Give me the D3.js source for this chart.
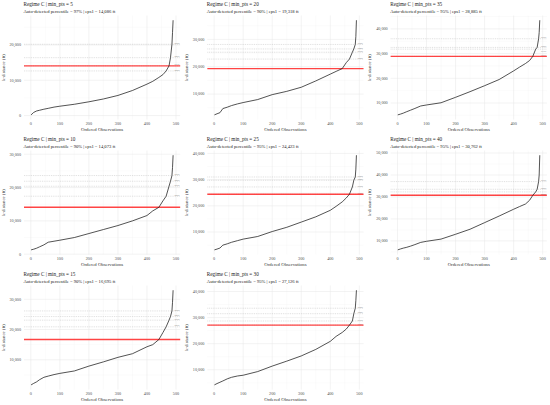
<!DOCTYPE html>
<html>
<head>
<meta charset="utf-8">
<script src="https://cdn.jsdelivr.net/npm/d3@7"></script>
<style>
  body { margin: 0; background: #fff; }
  text { font-family: "Liberation Serif", "DejaVu Serif", serif; }
</style>
</head>
<body>
<div id="chart"></div>
<script>
// Panel order as laid out in the grid (row by row)
const minPts  = [5, 20, 35, 10, 25, 40, 15, 30];
const autoPct = [97, 90, 95, 90, 95, 95, 90, 95];
const eps1    = [14086, 19318, 28885, 14073, 24423, 30762, 16695, 27126];

// Reference percentile lines (dotted) and their k-distance per panel
const pctLevels = [95, 97, 98, 99];
const pctValues = [
  [12640, 14086, 16400, 20190],
  [22800, 25300, 26500, 28150],
  [28885, 31800, 32500, 36000],
  [17400, 20400, 21900, 23600],
  [24423, 27200, 29750, 31000],
  [30762, 32300, 33500, 37000],
  [20900, 23100, 24300, 26150],
  [27126, 28700, 31500, 33600]
];

// Sorted k-distance curve, sampled at these observation indices
const obsIdx = [1, 10, 20, 30, 45, 60, 80, 100, 150, 200, 250, 300, 350, 400, 420, 441, 455, 466, 476, 481, 486, 488, 490];
const kdist5  = [200, 900, 1300, 1500, 1800, 2050, 2400, 2650, 3200, 3900, 4700, 5700, 7100, 8900, 9700, 10800, 11600, 12640, 14086, 16400, 20190, 23500, 27000];
const kdist20 = [2400, 2800, 3200, 4700, 5200, 5800, 6400, 6900, 8000, 9800, 11000, 12500, 14800, 17300, 18300, 19318, 21500, 22800, 25300, 26500, 28150, 31000, 37000];
const kdist35 = [5200, 5500, 5900, 6400, 7100, 7800, 8800, 9200, 10100, 12300, 14600, 17000, 19500, 23000, 24500, 26000, 27200, 28885, 31800, 32500, 36000, 38500, 43500];
const kdist10 = [1300, 1500, 1800, 2200, 2800, 3600, 3900, 4200, 5000, 6200, 7400, 8600, 10000, 11600, 13000, 14073, 16000, 17400, 20400, 21900, 23600, 26000, 29700];
const kdist25 = [3200, 3500, 3900, 5000, 5500, 6100, 6700, 7300, 8300, 10200, 11800, 13800, 15800, 18300, 19800, 21500, 23000, 24423, 27200, 29750, 31000, 34000, 39300];
const kdist40 = [5900, 6300, 6700, 7000, 7600, 8300, 9300, 9800, 10800, 13000, 15300, 18300, 21300, 24400, 25600, 26800, 28500, 30762, 32300, 33500, 37000, 40000, 49000];
const kdist15 = [1700, 2200, 2700, 3400, 4200, 4600, 5100, 5500, 6300, 7900, 9300, 10800, 12000, 14300, 15000, 16695, 19000, 20900, 23100, 24300, 26150, 29000, 33000];
const kdist30 = [4200, 4700, 5200, 5700, 6500, 7100, 7600, 7900, 9300, 11400, 13300, 15300, 17800, 20900, 22800, 24300, 25600, 27126, 28700, 31500, 33600, 36500, 40500];
const kdistSeries = [kdist5, kdist20, kdist35, kdist10, kdist25, kdist40, kdist15, kdist30];

const xTicks = [0, 100, 200, 300, 400, 500];

// Layout
const width = 550, height = 405;
const cellW = width / 3, cellH = 135;
const panel = { left: 24, right: 180.2, top: 15.5, bottom: 119.6 };

const svg = d3.select("#chart")
  .append("svg")
  .attr("width", width)
  .attr("height", height);

const fmt = d3.format(",");

function expand(lo, hi) {
  const pad = (hi - lo) * 0.05;
  return [lo - pad, hi + pad];
}

kdistSeries.forEach((vals, i) => {
  const col = i % 3, row = Math.floor(i / 3);
  const g = svg.append("g")
    .attr("transform", `translate(${col * cellW},${row * cellH})`);

  const x = d3.scaleLinear()
    .domain(expand(d3.min(obsIdx), d3.max(obsIdx)))
    .range([panel.left, panel.right]);

  const y = d3.scaleLinear()
    .domain(expand(d3.min(vals), d3.max(vals)))
    .range([panel.bottom, panel.top]);

  const [y0, y1] = y.domain();
  const yMajor = d3.range(Math.ceil(y0 / 10000) * 10000, y1, 10000);
  const yMinor = d3.range(Math.ceil((y0 - 5000) / 10000) * 10000 + 5000, y1, 10000).filter(v => v > y0);
  const xMinor = d3.range(50, 500, 100);

  // minor grid
  g.append("g").selectAll("line")
    .data(yMinor).join("line")
    .attr("x1", panel.left).attr("x2", panel.right)
    .attr("y1", d => y(d)).attr("y2", d => y(d))
    .attr("stroke", "#f2f2f2").attr("stroke-width", 0.3);
  g.append("g").selectAll("line")
    .data(xMinor).join("line")
    .attr("x1", d => x(d)).attr("x2", d => x(d))
    .attr("y1", panel.top).attr("y2", panel.bottom)
    .attr("stroke", "#f2f2f2").attr("stroke-width", 0.3);

  // major grid
  g.append("g").selectAll("line")
    .data(yMajor).join("line")
    .attr("x1", panel.left).attr("x2", panel.right)
    .attr("y1", d => y(d)).attr("y2", d => y(d))
    .attr("stroke", "#e6e6e6").attr("stroke-width", 0.5);
  g.append("g").selectAll("line")
    .data(xTicks).join("line")
    .attr("x1", d => x(d)).attr("x2", d => x(d))
    .attr("y1", panel.top).attr("y2", panel.bottom)
    .attr("stroke", "#e6e6e6").attr("stroke-width", 0.5);

  // percentile reference lines
  g.append("g").selectAll("line")
    .data(pctValues[i]).join("line")
    .attr("x1", panel.left).attr("x2", panel.right)
    .attr("y1", d => y(d)).attr("y2", d => y(d))
    .attr("stroke", "#b3b3b3").attr("stroke-width", 0.45)
    .attr("stroke-dasharray", "0.9,0.9");

  // labels sit just above their line, or below it when the next one is too close
  const pv = pctValues[i];
  g.append("g").selectAll("text")
    .data(pv).join("text")
    .attr("x", panel.right - 0.5)
    .attr("y", (d, j) => {
      const crowded = j < pv.length - 1 && (y(d) - y(pv[j + 1])) < 3.2;
      return crowded ? y(d) + 2.6 : y(d) - 0.4;
    })
    .attr("text-anchor", "end")
    .attr("font-size", 2.9)
    .attr("fill", "#808080")
    .text((d, j) => pctLevels[j] + "%");

  // eps1 line
  g.append("line")
    .attr("x1", panel.left).attr("x2", panel.right)
    .attr("y1", y(eps1[i])).attr("y2", y(eps1[i]))
    .attr("stroke", "#ff3030").attr("stroke-opacity", 0.9)
    .attr("stroke-width", 1.4);

  // k-distance curve
  const line = d3.line()
    .x((d, j) => x(obsIdx[j]))
    .y(d => y(d));
  g.append("path")
    .datum(vals)
    .attr("d", line)
    .attr("fill", "none")
    .attr("stroke", "#1a1a1a")
    .attr("stroke-width", 0.75)
    .attr("stroke-linejoin", "round");

  // tick labels
  g.append("g").selectAll("text")
    .data(xTicks).join("text")
    .attr("x", d => x(d))
    .attr("y", 125)
    .attr("text-anchor", "middle")
    .attr("font-size", 4.2)
    .attr("fill", "#4d4d4d")
    .text(d => d);

  g.append("g").selectAll("text")
    .data(yMajor).join("text")
    .attr("x", 21)
    .attr("y", d => y(d) + 1.4)
    .attr("text-anchor", "end")
    .attr("font-size", 4.2)
    .attr("fill", "#4d4d4d")
    .text(d => fmt(d));

  // axis titles
  g.append("text")
    .attr("x", (panel.left + panel.right) / 2)
    .attr("y", 131.2)
    .attr("text-anchor", "middle")
    .attr("font-size", 4.8)
    .attr("fill", "#333")
    .text("Ordered Observations");

  g.append("text")
    .attr("transform", `translate(4.8,${(panel.top + panel.bottom) / 2}) rotate(-90)`)
    .attr("text-anchor", "middle")
    .attr("font-size", 4.8)
    .attr("fill", "#333")
    .text("k-distance (ft)");

  // titles
  g.append("text")
    .attr("x", panel.left - 0.5)
    .attr("y", 6)
    .attr("font-size", 5.2)
    .attr("fill", "#1a1a1a")
    .text(`Regime C | min_pts = ${minPts[i]}`);

  g.append("text")
    .attr("x", panel.left - 0.5)
    .attr("y", 13.2)
    .attr("font-size", 4.6)
    .attr("fill", "#1a1a1a")
    .text(`Auto-detected percentile = ${autoPct[i]}% | eps1 = ${fmt(eps1[i])} ft`);
});
</script>
</body>
</html>
